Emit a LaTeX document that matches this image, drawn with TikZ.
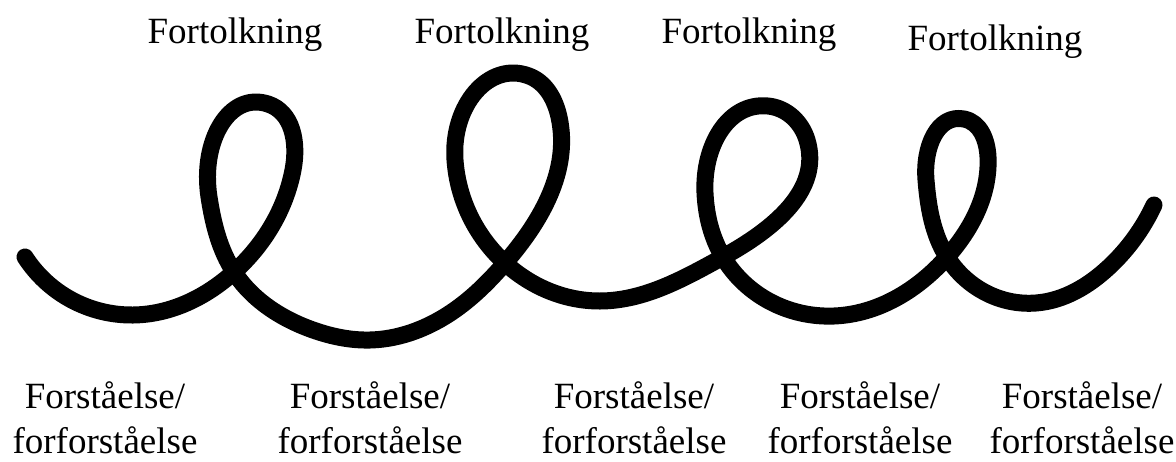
\documentclass[tikz,border=0pt]{standalone}
\usepackage{fontspec}
\setmainfont{Liberation Serif}
\usetikzlibrary{hobby}
\begin{document}
\begin{tikzpicture}[x=1pt,y=-1pt,
  lbl/.style={font=\fontsize{37}{44}\selectfont, inner sep=0pt, anchor=base},
  spiral/.style={line width=17pt, line cap=round, line join=round}]
\useasboundingbox (0,0) rectangle (1176,461);
% spiral
\draw[spiral, use Hobby shortcut]
  (25,257) .. (133,315) .. (234,272) .. (293,170) .. (268,104) .. (209,197) .. (234,272)
  .. (313,330) .. (370,340) .. (459,307) .. (505,263) .. (559,117) .. (529,76) .. (455,160) .. (505,263)
  .. (600,301) .. (723,257) .. (807,140) .. (768,106) .. (705,193) .. (723,257)
  .. (834,316) .. (947,257) .. (988,157) .. (964,119) .. (926,180) .. (947,257)
  .. (1036,303) .. (1109,267) .. (1154,205);
% top labels
\node[lbl] (t1) at (235,43) {Fortolkning};
\node[lbl] (t2) at (502,43) {Fortolkning};
\node[lbl] (t3) at (749,43) {Fortolkning};
\node[lbl] (t4) at (995,50) {Fortolkning};
% bottom labels
\node[lbl] (b1a) at (105,408) {Forståelse/};
\node[lbl] (b1b) at (105,453) {forforståelse};
\node[lbl] (b2a) at (370,408) {Forståelse/};
\node[lbl] (b2b) at (370,453) {forforståelse};
\node[lbl] (b3a) at (634,408) {Forståelse/};
\node[lbl] (b3b) at (634,453) {forforståelse};
\node[lbl] (b4a) at (860,408) {Forståelse/};
\node[lbl] (b4b) at (860,453) {forforståelse};
\node[lbl] (b5a) at (1082,408) {Forståelse/};
\node[lbl] (b5b) at (1082,453) {forforståelse};
\end{tikzpicture}
\end{document}
